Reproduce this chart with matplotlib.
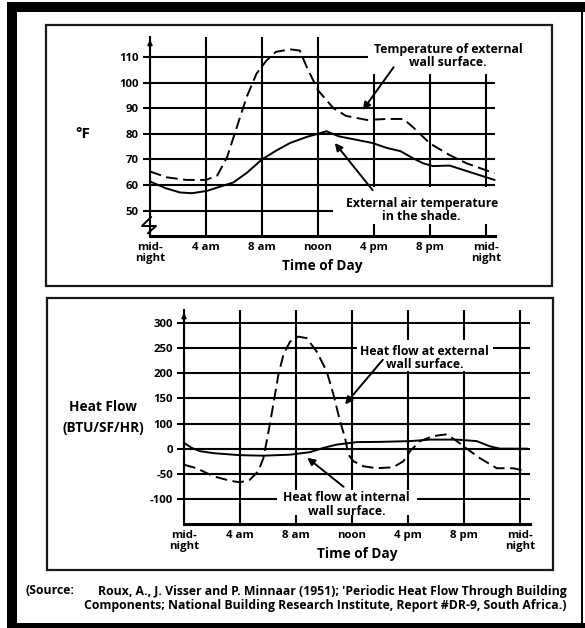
import numpy as np
import matplotlib
matplotlib.use('Agg')
import matplotlib.pyplot as plt
from matplotlib.patches import Rectangle

plt.rcParams['font.family'] = ['Open Sans', 'DejaVu Sans']
plt.rcParams['font.weight'] = 'bold'

# ---- data ----
# top chart: temperatures (deg F) vs hour of day
air_hours = [0, 1.1, 2.14, 3, 4.05, 5.95, 6.9, 8, 9, 10, 11.2, 12, 12.6, 13.5,
             15.9, 16.9, 17.9, 18.8, 19.5, 20.2, 21.4, 22.6, 24.6]
air_temp = [61.4, 58.8, 57.1, 56.8, 57.7, 61, 64.7, 70, 73.4, 76.4, 78.8, 80, 81, 79,
            76.4, 74.5, 73.2, 70.4, 68.5, 67.4, 67.6, 65.5, 62]

wall_hours = [0, 1.2, 2.6, 4, 4.8, 5.5, 6.2, 6.9, 7.6, 8.3, 9, 10, 10.7, 11.2, 12,
              13.1, 14, 15.5, 16.9, 18.1, 18.8, 20, 21.4, 22.6, 24.6]
wall_temp = [65.3, 63, 62, 62, 63.7, 70.8, 82.6, 94.3, 103.4, 108.5, 112, 113, 112.5,
             106, 97, 90, 87, 85.4, 85.8, 85.8, 82.5, 76.2, 71.7, 68.5, 64.6]

# bottom chart: heat flow (BTU/SF/HR) vs hour of day
ext_hours = [0, 0.9, 2.1, 3.3, 4.0, 4.7, 5.3, 5.67, 6.0, 6.38, 6.74, 7.1, 7.57, 8.16,
             8.76, 9.48, 10.19, 10.67, 11.14, 11.5, 11.74, 12.1, 12.8, 13.76, 14.95,
             15.67, 16.14, 16.86, 17.8, 18.76, 19.48, 20.19, 21.14, 22.33, 23.5, 24.48]
ext_flow = [-32, -39, -55, -64, -67, -62, -45, -19, 57, 138, 197, 237, 263, 273,
            270, 243, 204, 158, 105, 43, -12, -25, -35, -39, -37,
            -25, -5, 30, 50, 57, 30, 0, -19, -39, -39, -45]

int_hours = [0, 0.55, 1.14, 2.1, 4, 5.67, 7.57, 9, 9.95, 10.9, 12.33, 14, 16.14,
             17.57, 19.48, 20.9, 21.86, 22.57, 24.48]
int_flow = [23, 3, -5, -9, -13, -14, -12, -7, 3, 16, 26, 27, 30,
            36, 36, 30, 9, 0, 0]

hour_ticks = [0, 4, 8, 12, 16, 20, 24]
hour_labels = ['mid-\nnight', '4 am', '8 am', 'noon', '4 pm', '8 pm', 'mid-\nnight']
temp_ticks = [50, 60, 70, 80, 90, 100, 110]
flow_ticks = [-100, -50, 0, 100, 150, 200, 250, 300]   # as labelled (no 50)

# the heat-flow axis is labelled with evenly spaced gridlines but skips 50
flow_vals = [-200, -150, -100, -50, 0, 100, 150, 200, 250, 300, 350, 400]
flow_pos = [-2, -1, 0, 1, 2, 3, 4, 5, 6, 7, 8, 9]

def flow_fwd(v):
    return np.interp(v, flow_vals, flow_pos)

def flow_inv(p):
    return np.interp(p, flow_pos, flow_vals)


W, H = 585, 628
fig = plt.figure(figsize=(W / 100, H / 100), dpi=100, facecolor='white')

def box(x0, y0, x1, y1):
    # pixel box (top-left origin) -> figure fraction rect
    return [x0 / W, 1 - y1 / H, (x1 - x0) / W, (y1 - y0) / H]

# outer black frame (heavy left/top/bottom, thin right)
for x0, y0, x1, y1 in [(7, 2, 17, 628), (7, 2, 585, 12), (7, 623, 585, 628), (581, 2, 583, 628)]:
    r = box(x0, y0, x1, y1)
    fig.patches.append(Rectangle((r[0], r[1]), r[2], r[3], transform=fig.transFigure,
                                 facecolor='black', edgecolor='none'))
# panel boxes
for x0, y0, x1, y1 in [(46, 25, 552, 286), (47, 298, 553, 570)]:
    r = box(x0, y0, x1, y1)
    fig.patches.append(Rectangle((r[0], r[1]), r[2], r[3], transform=fig.transFigure,
                                 facecolor='none', edgecolor='#1a1a1a', linewidth=1.6))

GRID_LW = 1.5
LINE_LW = 1.4
DASH = (0, (6, 2.8))
TXT = 8.8


def style_axes(axes):
    axes.set_facecolor('none')
    axes.spines['right'].set_visible(False)
    axes.spines['top'].set_visible(False)
    axes.spines['left'].set_linewidth(1.5)
    axes.spines['bottom'].set_linewidth(2.2)
    axes.tick_params(axis='y', direction='out', length=5, width=1.5, pad=3, labelsize=8.2)
    axes.tick_params(axis='x', length=0, pad=4, labelsize=8.2)
    axes.set_xticks(hour_ticks)
    axes.set_xticklabels(hour_labels, fontweight='bold', va='top', linespacing=1.0)
    for t in axes.get_yticklabels():
        t.set_fontweight('bold')
    for h in hour_ticks:
        axes.axvline(h, color='black', lw=GRID_LW, zorder=1)
    axes.annotate('', xy=(0, 1.0), xytext=(0, 0.9), xycoords='axes fraction',
                  arrowprops=dict(arrowstyle='-|>', lw=1.2, color='black', mutation_scale=7))
    axes.set_xlabel('Time of Day', fontsize=9.8, fontweight='bold', labelpad=-3)


def white_box(axes, x0, x1, y0, y1):
    axes.add_patch(Rectangle((x0, y0), x1 - x0, y1 - y0, facecolor='white',
                             edgecolor='none', zorder=2, clip_on=False))


# ---------------- top chart ----------------
ax1 = fig.add_axes(box(150, 37, 495, 236))
ax1.set_xlim(0, 24.64)
ax1.set_ylim(40.1, 117.8)
ax1.set_yticks(temp_ticks)
for v in temp_ticks:
    ax1.axhline(v, color='black', lw=GRID_LW, zorder=1)
style_axes(ax1)
for t in ax1.get_xticklabels():
    t.set_fontweight('bold')

white_box(ax1, 15.6, 27.5, 103.4, 118.5)
white_box(ax1, 13.05, 24.9, 44.8, 59.2)

ax1.plot(air_hours, air_temp, color='black', lw=LINE_LW, zorder=3, clip_on=False)
ax1.plot(wall_hours, wall_temp, color='black', lw=LINE_LW, ls=DASH, zorder=3, clip_on=False)

ax1.text(21.3, 110.3, 'Temperature of external\nwall surface.', ha='center', va='center',
         fontsize=TXT, fontweight='bold', linespacing=1.05, zorder=4)
ax1.text(19.4, 50.2, 'External air temperature\nin the shade.', ha='center', va='center',
         fontsize=TXT, fontweight='bold', linespacing=1.05, zorder=4)
arrow = dict(arrowstyle='-|>', lw=1.4, color='black', mutation_scale=11, shrinkA=0, shrinkB=0)
ax1.annotate('', xy=(15.2, 89.3), xytext=(17.4, 106), arrowprops=arrow, zorder=4)
ax1.annotate('', xy=(13.2, 76.4), xytext=(15.9, 58), arrowprops=arrow, zorder=4)

# axis break mark near the bottom of the temperature axis
ax1.plot([0.07, -0.57, 0.43, -0.14], [47.5, 44.0, 44.0, 41.2], color='black', lw=1.4,
         clip_on=False, zorder=4)

fig.text(83 / W, 1 - 134 / H, '°F', fontsize=11, fontweight='bold', ha='center', va='center')

# ---------------- bottom chart ----------------
ax2 = fig.add_axes(box(184, 310, 530, 524))
ax2.set_yscale('function', functions=(flow_fwd, flow_inv))
ax2.set_xlim(0, 24.71)
ax2.set_ylim(-150, 326)
ax2.set_yticks(flow_ticks)
ax2.set_yticklabels([str(v) for v in flow_ticks])
ax2.yaxis.set_minor_locator(matplotlib.ticker.NullLocator())
for v in flow_ticks:
    ax2.axhline(v, color='black', lw=GRID_LW, zorder=1)
style_axes(ax2)
for t in ax2.get_xticklabels():
    t.set_fontweight('bold')

white_box(ax2, 12.36, 22.07, 204, 266)
white_box(ax2, 6.64, 16.64, -132, -82)

ax2.plot(int_hours, int_flow, color='black', lw=LINE_LW, zorder=3, clip_on=False)
ax2.plot(ext_hours, ext_flow, color='black', lw=LINE_LW, ls=DASH, zorder=3, clip_on=False)

ax2.text(17.2, 230, 'Heat flow at external\nwall surface.', ha='center', va='center',
         fontsize=TXT, fontweight='bold', linespacing=1.05, zorder=4)
ax2.text(11.6, -111, 'Heat flow at internal\nwall surface.', ha='center', va='center',
         fontsize=TXT, fontweight='bold', linespacing=1.05, zorder=4)
ax2.annotate('', xy=(11.5, 138), xytext=(14.2, 227), arrowprops=arrow, zorder=4)
ax2.annotate('', xy=(8.8, -18), xytext=(11.4, -76), arrowprops=arrow, zorder=4)

fig.text(103 / W, 1 - 407 / H, 'Heat Flow', fontsize=9.8, fontweight='bold', ha='center', va='center')
fig.text(103 / W, 1 - 428 / H, '(BTU/SF/HR)', fontsize=9.8, fontweight='bold', ha='center', va='center')

# ---------------- source note ----------------
SRC = 8.8
fig.text(25 / W, 1 - 591 / H, '(Source:', fontsize=SRC, fontweight='bold', va='center')
fig.text(567 / W, 1 - 591 / H,
         "Roux, A., J. Visser and P. Minnaar (1951); 'Periodic Heat Flow Through Building",
         fontsize=SRC, fontweight='bold', va='center', ha='right')
fig.text(567 / W, 1 - 606 / H,
         'Components; National Building Research Institute, Report #DR-9, South Africa.)',
         fontsize=SRC, fontweight='bold', va='center', ha='right')

fig.savefig('out.png', dpi=100, facecolor='white')
